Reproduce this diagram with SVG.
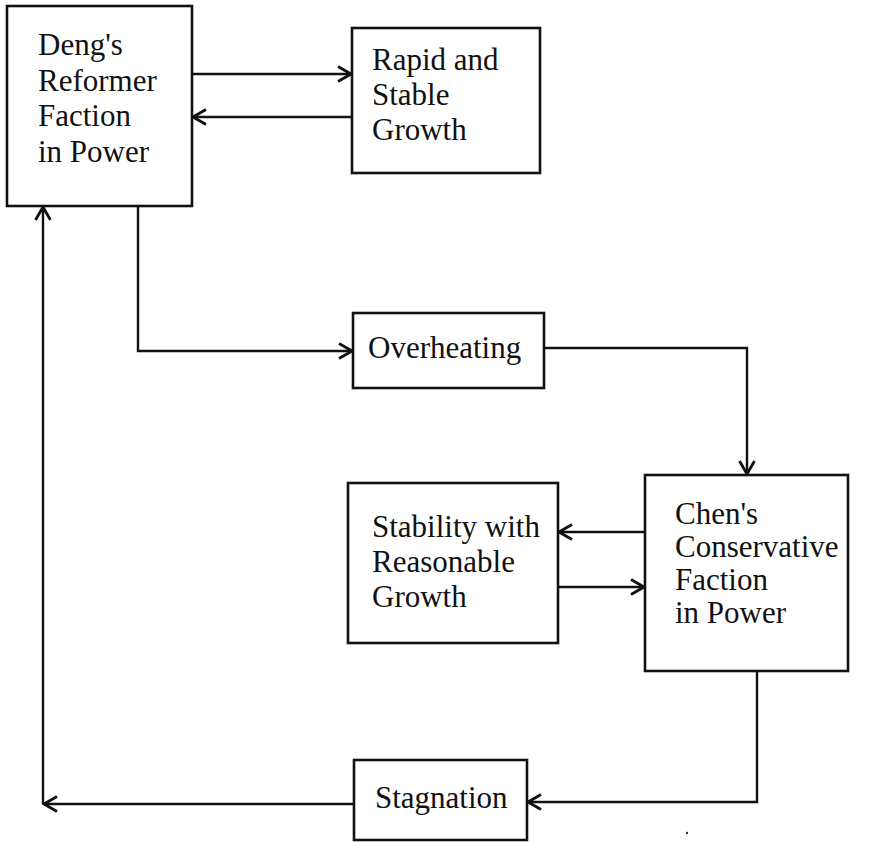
<svg xmlns="http://www.w3.org/2000/svg" width="871" height="842" viewBox="0 0 871 842">
  <style>
    .box { fill: #fff; stroke: #111; stroke-width: 2.6; }
    .lbl { font-family: "Liberation Serif", "Times New Roman", serif; font-size: 31px; fill: #111; }
    .conn { fill: none; stroke: #111; stroke-width: 2.4; }
  </style>
  <defs>
    <marker id="arr" viewBox="-16 -10 18 20" refX="0" refY="0" markerWidth="18" markerHeight="20" markerUnits="userSpaceOnUse" orient="auto">
      <path d="M-13,-7.5 L0,0 L-13,7.5" fill="none" stroke="#111" stroke-width="2.8"/>
    </marker>
  </defs>
  <rect width="871" height="842" fill="#fff"/>

  <g id="connectors">
    <path class="conn" d="M192,74 H351" marker-end="url(#arr)"/>
    <path class="conn" d="M352,117 H193" marker-end="url(#arr)"/>
    <path class="conn" d="M138,206 V351 H352" marker-end="url(#arr)"/>
    <path class="conn" d="M544,348 H747 V474" marker-end="url(#arr)"/>
    <path class="conn" d="M645,532 H559" marker-end="url(#arr)"/>
    <path class="conn" d="M558,587 H644" marker-end="url(#arr)"/>
    <path class="conn" d="M757,671 V802 H528" marker-end="url(#arr)"/>
    <path class="conn" d="M354,804 H44" marker-end="url(#arr)"/>
    <path class="conn" d="M43,804 V207" marker-end="url(#arr)"/>
  </g>

  <g id="deng">
    <rect class="box" x="7" y="6" width="185" height="200"/>
    <text class="lbl" x="38" y="55">Deng's</text>
    <text class="lbl" x="38" y="91">Reformer</text>
    <text class="lbl" x="38" y="126">Faction</text>
    <text class="lbl" x="38" y="162">in Power</text>
  </g>

  <g id="rapid">
    <rect class="box" x="352" y="28" width="188" height="145"/>
    <text class="lbl" x="372" y="70">Rapid and</text>
    <text class="lbl" x="372" y="105">Stable</text>
    <text class="lbl" x="372" y="140">Growth</text>
  </g>

  <g id="overheating">
    <rect class="box" x="353" y="313" width="191" height="75"/>
    <text class="lbl" x="368" y="358">Overheating</text>
  </g>

  <g id="chen">
    <rect class="box" x="645" y="475" width="203" height="196"/>
    <text class="lbl" x="675" y="524">Chen's</text>
    <text class="lbl" x="675" y="557">Conservative</text>
    <text class="lbl" x="675" y="590">Faction</text>
    <text class="lbl" x="675" y="623">in Power</text>
  </g>

  <g id="stability">
    <rect class="box" x="348" y="483" width="210" height="160"/>
    <text class="lbl" x="372" y="537">Stability with</text>
    <text class="lbl" x="372" y="572">Reasonable</text>
    <text class="lbl" x="372" y="607">Growth</text>
  </g>

  <g id="stagnation">
    <rect class="box" x="354" y="760" width="173" height="80"/>
    <text class="lbl" x="375" y="808">Stagnation</text>
  </g>

  <circle cx="687" cy="833" r="1.2" fill="#333"/>
</svg>
